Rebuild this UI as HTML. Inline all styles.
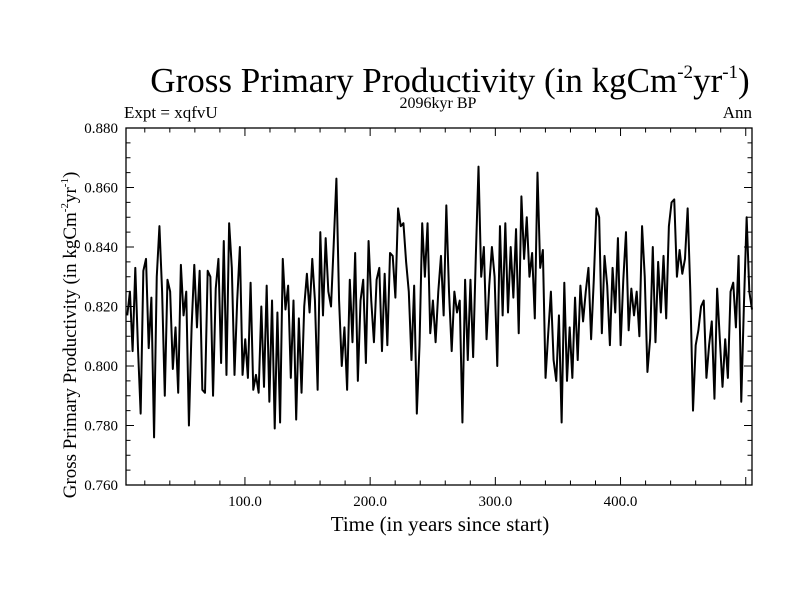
<!DOCTYPE html>
<html><head><meta charset="utf-8"><style>
body{margin:0;background:#fff}
svg{display:block;font-family:"Liberation Serif",serif}
</style></head><body>
<svg id="chart" width="800" height="600" viewBox="0 0 800 600">
<rect width="800" height="600" fill="#fff"/>
<text x="450" y="92" font-size="35" text-anchor="middle">Gross Primary Productivity (in kgCm<tspan font-size="19" dy="-14">-2</tspan><tspan dy="14">yr</tspan><tspan font-size="19" dy="-14">-1</tspan><tspan dy="14">)</tspan></text>
<text x="124" y="118" font-size="17">Expt = xqfvU</text>
<text x="438" y="108" font-size="16" text-anchor="middle">2096kyr BP</text>
<text x="752" y="118" font-size="17" text-anchor="end">Ann</text>
<g id="axes"></g>
<path id="series" fill="none" stroke="#000" stroke-width="2" stroke-linejoin="round"/>
<text x="440" y="531" font-size="21" text-anchor="middle">Time (in years since start)</text>
<text transform="translate(76,335) rotate(-90)" font-size="19" text-anchor="middle">Gross Primary Productivity (in kgCm<tspan font-size="11" dy="-8">-2</tspan><tspan dy="8">yr</tspan><tspan font-size="11" dy="-8">-1</tspan><tspan dy="8">)</tspan></text>
</svg>
<script>
const yTicks=[0.760,0.780,0.800,0.820,0.840,0.860,0.880];
const yTickLabels=["0.760","0.780","0.800","0.820","0.840","0.860","0.880"];
const xTicks=[100,200,300,400];
const xTickLabels=["100.0","200.0","300.0","400.0"];
const xRange=[5,505];
const yRange=[0.760,0.880];
const gppValues=[
.817,.825,.805,.833,.806,.784,.832,.836,.806,.823,.776,.830,.847,.825,.790,.829,.825,.799,.813,.791,.834,.817,.825,.780,.813,.834,.813,.832,.792,.791,.832,.830,.790,.826,.836,.801,.842,.797,.848,.833,.797,.822,.840,.797,.809,.796,.828,.792,
.797,.791,.820,.793,.827,.788,.822,.779,.818,.781,.836,.819,.827,.796,.822,.782,.816,.791,.820,.831,.818,.836,.822,.792,.845,.817,.843,.825,.820,.841,.863,.822,.800,.813,.792,.829,.808,.838,.795,.822,.829,.801,.842,.822,.808,.829,.833,.805,.831,.807,.838,.837,.823,.853,.847,.848,.835,.825,.802,.827,.784,.807,.848,
.830,.848,.811,.822,.808,.825,.837,.817,.854,.825,.805,.825,.818,.822,.781,.829,.802,.829,.803,.837,.867,.830,.840,.809,.827,.840,.830,.800,.847,.817,.848,.818,.840,.823,.846,.811,.857,.836,.850,.830,.838,.816,.865,.833,.839,.796,.811,.825,.802,.795,.817,.781,.828,.795,.813,.796,.823,.802,.827,
.815,.825,.833,.809,.829,.853,.850,.811,.837,.827,.807,.833,.818,.843,.807,.829,.845,.812,.826,.817,.825,.810,.847,.830,.798,.809,.840,.808,.835,.818,.837,.816,.847,.855,.856,.830,.839,.831,.836,.853,.825,.785,.807,.812,.820,.822,.796,.807,.815,.789,.826,.809,.793,.809,.796,.825,.828,.813,.837,.788,.821,.850,.825,.819];
const yearStart=6, yearEnd=505;

const L=126,R=752,T=128,B=485;
const sx=v=>L+(v-xRange[0])/(xRange[1]-xRange[0])*(R-L);
const sy=v=>B-(v-yRange[0])/(yRange[1]-yRange[0])*(B-T);
const NS="http://www.w3.org/2000/svg";
const ax=document.getElementById('axes');
function mk(tag,attrs,parent){const e=document.createElementNS(NS,tag);for(const k in attrs)e.setAttribute(k,attrs[k]);(parent||ax).appendChild(e);return e;}

const frame=mk('rect',{x:L,y:T,width:R-L,height:B-T,fill:'none',stroke:'#000','stroke-width':1.3});



for(let i=0;i<=24;i++){
  const v=yRange[0]+i*0.005, y=sy(v), len=(i%4===0)?8:4.5;
  const t1=mk('line',{x1:L,x2:L+len,y1:y,y2:y,stroke:'#000','stroke-width':1});
  
  
  const t2=mk('line',{x1:R,x2:R-len,y1:y,y2:y,stroke:'#000','stroke-width':1});
  
  
}
yTicks.forEach((v,i)=>{
  const t=mk('text',{x:L-8,y:sy(v)+5,'font-size':15,'text-anchor':'end'});
  t.textContent=yTickLabels[i];
  
  
});
for(let v=20;v<=500;v+=20){
  const x=sx(v), len=(v%100===0)?8:4.5;
  const t1=mk('line',{x1:x,x2:x,y1:B,y2:B-len,stroke:'#000','stroke-width':1});
  
  
  const t2=mk('line',{x1:x,x2:x,y1:T,y2:T+len,stroke:'#000','stroke-width':1});
  
  
}
xTicks.forEach((v,i)=>{
  const t=mk('text',{x:sx(v),y:B+21,'font-size':15,'text-anchor':'middle'});
  t.textContent=xTickLabels[i];
  
  
});
const n=gppValues.length;
let d='';
gppValues.forEach((v,i)=>{
  const yr=yearStart+i*(yearEnd-yearStart)/(n-1);
  d+=(i?'L':'M')+sx(yr).toFixed(2)+','+sy(v).toFixed(2);
});
document.getElementById('series').setAttribute('d',d);
</script>
</body></html>
